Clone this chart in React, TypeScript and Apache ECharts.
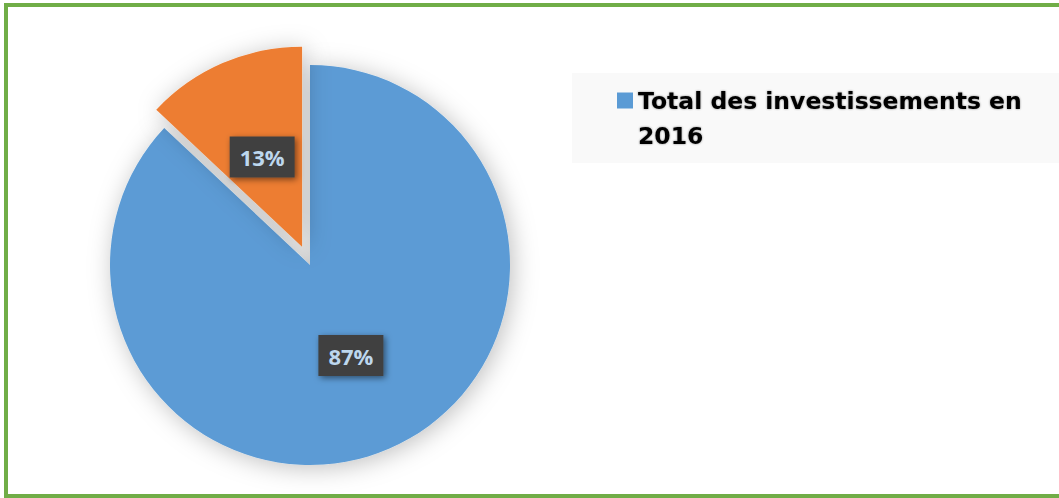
import React, { useEffect, useRef } from 'react';
import * as echarts from 'echarts';

const categories = ['Total des investissements en 2016', 'Autres investissements'];
const values = [87, 13];
const colors = ['#5B9BD5', '#ED7D31'];
const labelOffsets = [[0, -4], [1, 5]];
const legendItems = ['Total des investissements en 2016'];

export default function App() {
  const ref = useRef<HTMLDivElement>(null);
  useEffect(() => {
    const chart = echarts.init(ref.current as HTMLDivElement, null, { renderer: 'svg' });
    chart.setOption({
      animation: false,
      backgroundColor: '#FFFFFF',
      graphic: [
        {
          type: 'rect',
          z: 0,
          shape: { x: 572, y: 73, width: 487, height: 90 },
          style: { fill: '#F9F9F9' },
        },
        {
          type: 'rect',
          z: 100,
          shape: { x: 6, y: 5, width: 1100, height: 491 },
          style: { fill: 'none', stroke: '#70AD47', lineWidth: 4 },
        },
      ],
      legend: {
        data: legendItems,
        left: 617,
        top: 48,
        padding: 0,
        icon: 'rect',
        itemWidth: 16,
        itemHeight: 16,
        itemGap: 6,
        selectedMode: false,
        formatter: (name: string) => '\n' + name.replace(' en 2016', ' en\n2016'),
        textStyle: {
          fontFamily: 'DejaVu Sans, sans-serif',
          fontWeight: 'bold',
          fontSize: 23.5,
          lineHeight: 35,
          color: '#000000',
          textShadowColor: 'rgba(0,0,0,0.45)',
          textShadowBlur: 2,
        },
      },
      series: [
        {
          type: 'pie',
          center: [310, 265],
          radius: 200,
          startAngle: 90,
          clockwise: true,
          selectedMode: 'single',
          selectedOffset: 20,
          emphasis: { disabled: true },
          itemStyle: {
            borderWidth: 0,
            shadowBlur: 25,
            shadowColor: 'rgba(0,0,0,0.25)',
            shadowOffsetX: 3,
            shadowOffsetY: 3,
          },
          label: {
            show: true,
            position: 'inside',
            formatter: '{c}%',
            fontFamily: 'Open Sans, sans-serif',
            fontWeight: 'bold',
            fontSize: 22,
            color: '#BDD7EE',
            backgroundColor: '#404040',
            padding: [10, 10, 9, 10],
            shadowColor: 'rgba(0,0,0,0.5)',
            shadowBlur: 6,
            shadowOffsetX: 2,
            shadowOffsetY: 2,
          },
          labelLine: { show: false },
          data: categories.map((name, i) => ({
            name,
            value: values[i],
            selected: i === 1,
            itemStyle: { color: colors[i] },
            label: { offset: labelOffsets[i] },
            select: { label: { offset: labelOffsets[i] } },
          })),
        },
      ],
    });
    return () => chart.dispose();
  }, []);
  return (
    <div
      ref={ref}
      style={{ position: 'absolute', left: 0, top: 0, width: 1059, height: 498 }}
    />
  );
}
